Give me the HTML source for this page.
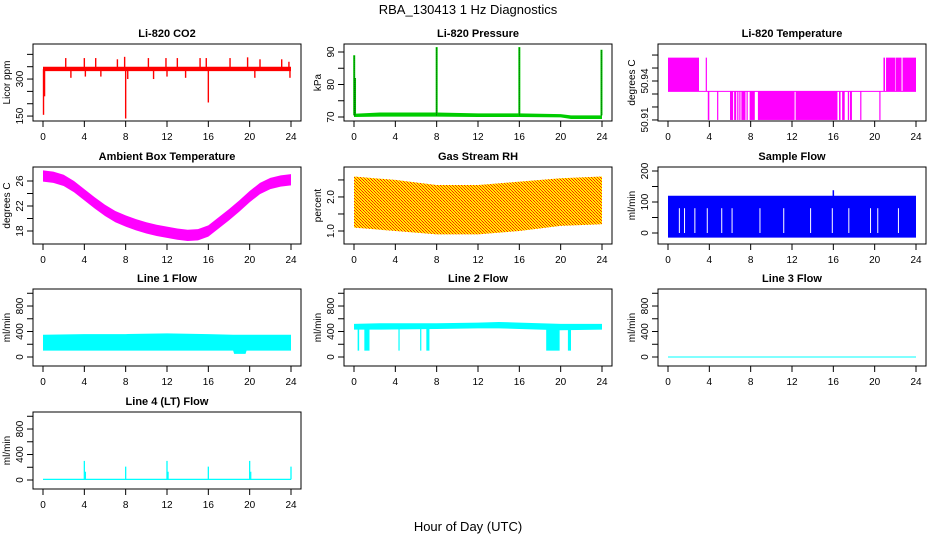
<!DOCTYPE html>
<html><head><meta charset="utf-8"><style>
body{margin:0;background:#fff}
svg text{font-family:"Liberation Sans",sans-serif}
</style></head><body>
<svg id="chart" width="936" height="540" viewBox="0 0 936 540" xmlns="http://www.w3.org/2000/svg">
<defs>
<pattern id="rhpat" width="3" height="3" patternUnits="userSpaceOnUse">
<rect width="3" height="3" fill="#ffee00"/><rect x="0" y="0" width="1" height="1" fill="#ff2000"/><rect x="1" y="1" width="1" height="1" fill="#ff4000"/><rect x="2" y="2" width="1" height="1" fill="#ff2000"/>
</pattern>
</defs>
<text x="468" y="14" font-size="13" text-anchor="middle">RBA_130413  1 Hz Diagnostics</text>
<text x="468" y="531" font-size="13" text-anchor="middle">Hour of Day (UTC)</text>
</svg>
<script>
// ---------- data ----------
const xTicks = [0,4,8,12,16,20,24];
// CO2
const co2BandHours = [0,24];
const co2BandLo = [332,332];
const co2BandHi = [350,350];
const co2SpikeHours = [0.05,0.15,2.2,2.7,4.0,4.1,5.1,5.6,7.2,7.9,8.0,8.2,10.2,10.7,11.9,12.0,13.0,13.8,15.2,15.8,16.0,18.1,19.8,20.5,21.0,23.1,23.8,23.9];
const co2SpikeVals = [155,230,385,305,385,310,385,310,380,390,140,300,385,300,385,310,385,305,385,385,205,385,388,305,380,380,370,305];
// Pressure
const presBandHours = [0,2.5,8,12,16,20,21,24];
const presBandLo = [70.0,70.1,70.1,70.0,70.0,69.9,69.4,69.4];
const presBandHi = [71.0,71.4,71.4,71.1,71.1,70.9,70.5,70.5];
const presSpikeHours = [0.02,0.1,8.0,16.0,23.95];
const presSpikeVals = [89,82,91.5,91.5,90.7];
// Li-820 temperature
const tempLevels = [50.91,50.932,50.958];
const tempHighStart = [0,3.65,20.85,21.1,22.05,22.7];
const tempHighEnd = [3.0,3.72,21.0,22.0,22.6,24];
const tempLowStart = [3.85,4.75,6.0,6.4,6.7,6.9,7.1,7.6,7.9,8.7,12.35,16.55,16.85,17.4,17.6,18.6,20.45];
const tempLowEnd = [4.0,4.82,6.3,6.6,6.8,7.0,7.5,7.7,8.4,12.25,16.4,16.7,17.1,17.5,17.8,18.7,20.52];
// Ambient box temperature
const ambHours = [0,1,2,3,4,5,6,7,8,9,10,11,12,13,14,15,16,17,18,19,20,21,22,23,24];
const ambVals = [26.8,26.6,26.1,25.1,23.8,22.5,21.3,20.3,19.6,19.0,18.5,18.1,17.8,17.5,17.3,17.4,18.0,19.3,20.6,22.0,23.5,24.8,25.6,26.0,26.2];
// Gas stream RH
const rhHours = [0,4,8,12,16,20,24];
const rhLo = [1.1,1.0,0.9,0.9,1.0,1.15,1.2];
const rhHi = [2.6,2.5,2.35,2.35,2.45,2.55,2.6];
// Sample flow
const sfHours = [0,24];
const sfLo = [-15,-15];
const sfHi = [120,120];
const sfSpikeHours = [16.0];
const sfSpikeVals = [138];
const sfGapHours = [1.1,1.6,2.6,3.8,5.2,6.2,8.9,11.2,13.8,15.9,17.5,19.6,20.3,22.3];
// Line 1 flow
const l1Hours = [0,4,8,12,16,18.4,18.5,19.6,19.7,24];
const l1Lo = [100,100,100,100,100,100,50,50,100,100];
const l1Hi = [350,360,360,370,360,350,350,350,350,350];
// Line 2 flow
const l2Hours = [0,2.5,8,12,14,16,20,24];
const l2Lo = [430,430,440,450,450,440,420,430];
const l2Hi = [520,530,530,540,550,540,520,520];
const l2DipStart = [0.35,1.0,4.3,6.4,7.0,18.6,20.7];
const l2DipEnd = [0.5,1.5,4.4,6.5,7.3,19.9,21.0];
const l2DipVal = 100;
// Line 3 flow
const l3Hours = [0,24];
const l3Vals = [0,0];
// Line 4 flow
const l4SpikeHours = [4.0,4.1,8.0,12.0,12.1,16.0,20.0,20.1,24.0];
const l4SpikeVals = [300,130,210,300,130,210,300,130,210];
const l4BaseVal = 10;

// ---------- layout ----------
const NS = "http://www.w3.org/2000/svg";
const svg = document.getElementById('chart');
const colLeft = [33,344,658], rowTop = [44,167,289,412], BW = 268, BH = 77;
function mk(tag, attrs, parent){const e=document.createElementNS(NS,tag);for(const k in attrs)e.setAttribute(k,attrs[k]);(parent||svg).appendChild(e);return e;}

function panel(col,row,title,ylab,dom,yticks,ylabels,name){
  const L=colLeft[col],T=rowTop[row],B=T+BH;
  const g=mk('g',{});
  
  
  const xs=h=>L+10+h*(BW-20)/24;
  const ys=v=>B-(v-dom[0])/(dom[1]-dom[0])*BH;
  const plot=mk('g',{},g);
  
  
  const box=mk('rect',{x:L,y:T,width:BW,height:BH,fill:'none',stroke:'#000','stroke-width':1},g);
  
  
  const t=mk('text',{x:L+BW/2,y:T-7,'font-size':11,'font-weight':'bold','text-anchor':'middle'},g);
  t.textContent=title;
  
  
  xTicks.forEach(h=>{
    mk('line',{x1:xs(h),x2:xs(h),y1:B,y2:B+6,stroke:'#000'},g);
    const tx=mk('text',{x:xs(h),y:B+19,'font-size':10,'text-anchor':'middle'},g);
    tx.textContent=h;
    
    
  });
  mk('line',{x1:L,x2:L,y1:ys(yticks[0]),y2:ys(yticks[yticks.length-1]),stroke:'#000'},g);
  yticks.forEach(v=>mk('line',{x1:L-6,x2:L,y1:ys(v),y2:ys(v),stroke:'#000'},g));
  ylabels.forEach(v=>{
    const y=ys(v),x=L-10;
    const tx=mk('text',{x:x,y:y,'font-size':10,'text-anchor':'middle',transform:`rotate(-90 ${x} ${y})`},g);
    tx.textContent=v;
    
    
  });
  const yx=L-23,yy=T+BH/2;
  const yl=mk('text',{x:yx,y:yy,'font-size':10,'text-anchor':'middle',transform:`rotate(-90 ${yx} ${yy})`},g);
  yl.textContent=ylab;
  
  
  return {xs,ys,plot};
}
function band(p,hours,lo,hi,fill){
  let d='M'+hours.map((h,i)=>p.xs(h)+','+p.ys(hi[i])).join('L');
  for(let i=hours.length-1;i>=0;i--)d+='L'+p.xs(hours[i])+','+p.ys(lo[i]);
  const e=mk('path',{d:d+'Z',fill:fill},p.plot);
  
  
}
function spikes(p,hours,vals,base,color,w,dash){
  hours.forEach((h,i)=>{
    const e=mk('line',{x1:p.xs(h),x2:p.xs(h),y1:p.ys(base),y2:p.ys(vals[i]),stroke:color,'stroke-width':w||1.3},p.plot);
    if(dash)e.setAttribute('stroke-dasharray',dash);
    
    
  });
}
function blocks(p,starts,ends,lo,hi,color){
  starts.forEach((s,i)=>{
    const e=mk('rect',{x:p.xs(s),y:p.ys(hi),width:Math.max(1.2,p.xs(ends[i])-p.xs(s)),height:p.ys(lo)-p.ys(hi),fill:color},p.plot);
    
    
  });
}

// CO2
let p=panel(0,0,'Li-820 CO2','Licor ppm',[130,442],[150,200,250,300,350,400],[150,300],'co2-panel');
band(p,co2BandHours,co2BandLo,co2BandHi,'#ff0000');
spikes(p,co2SpikeHours,co2SpikeVals,340,'#ff0000',1.4);
// Pressure
p=panel(1,0,'Li-820 Pressure','kPa',[68.77,92.46],[70,75,80,85,90],[70,80,90],'pressure-panel');
band(p,presBandHours,presBandLo,presBandHi,'#00cc00');
spikes(p,presSpikeHours,presSpikeVals,70.5,'#00cc00',2);
spikes(p,presSpikeHours,presSpikeVals,70.5,'#003300',0.7,'1,1');
// Temperature
p=panel(2,0,'Li-820 Temperature','degrees C',[50.9092,50.9685],[50.91,50.92,50.93,50.94,50.95,50.96],[50.91,50.94],'li820-temp-panel');
blocks(p,tempHighStart,tempHighEnd,tempLevels[1],tempLevels[2],'#ff00ff');
blocks(p,tempLowStart,tempLowEnd,tempLevels[0],tempLevels[1],'#ff00ff');
mk('line',{x1:p.xs(0),x2:p.xs(24),y1:p.ys(tempLevels[1]),y2:p.ys(tempLevels[1]),stroke:'#ff00ff'},p.plot);
// Ambient
p=panel(0,1,'Ambient Box Temperature','degrees C',[15.92,28.24],[18,20,22,24,26],[18,22,26],'ambient-temp-panel');
band(p,ambHours,ambVals.map(v=>v-0.9),ambVals.map(v=>v+0.9),'#ff00ff');
// RH
p=panel(1,1,'Gas Stream RH','percent',[0.618,2.88],[1.0,1.5,2.0,2.5],['1.0','2.0'],'gas-rh-panel');
band(p,rhHours,rhLo,rhHi,'url(#rhpat)');
// Sample flow
p=panel(2,1,'Sample Flow','ml/min',[-35.5,212.9],[0,50,100,150,200],[0,100,200],'sample-flow-panel');
band(p,sfHours,sfLo,sfHi,'#0000ff');
spikes(p,sfSpikeHours,sfSpikeVals,100,'#0000ff',1.5);
sfGapHours.forEach(h=>{
  const e=mk('line',{x1:p.xs(h),x2:p.xs(h),y1:p.ys(80),y2:p.ys(0),stroke:'#fff','stroke-width':1},p.plot);
  
  
});
// Line 1
const lineTicks=[0,200,400,600,800,1000], lineLabels=[0,400,800], lineDom=[-141,1067];
p=panel(0,2,'Line 1 Flow','ml/min',lineDom,lineTicks,lineLabels,'line1-flow-panel');
band(p,l1Hours,l1Lo,l1Hi,'#00ffff');
// Line 2
p=panel(1,2,'Line 2 Flow','ml/min',lineDom,lineTicks,lineLabels,'line2-flow-panel');
band(p,l2Hours,l2Lo,l2Hi,'#00ffff');
blocks(p,l2DipStart,l2DipEnd,l2DipVal,450,'#00ffff');
// Line 3
p=panel(2,2,'Line 3 Flow','ml/min',lineDom,lineTicks,lineLabels,'line3-flow-panel');
band(p,l3Hours,l3Vals.map(v=>v-8),l3Vals.map(v=>v+8),'#00ffff');
// Line 4
p=panel(0,3,'Line 4 (LT) Flow','ml/min',lineDom,lineTicks,lineLabels,'line4-flow-panel');
band(p,[0,24],[0,0],[20,20],'#00ffff');
spikes(p,l4SpikeHours,l4SpikeVals,l4BaseVal,'#00ffff',1.3);
</script>
</body></html>
